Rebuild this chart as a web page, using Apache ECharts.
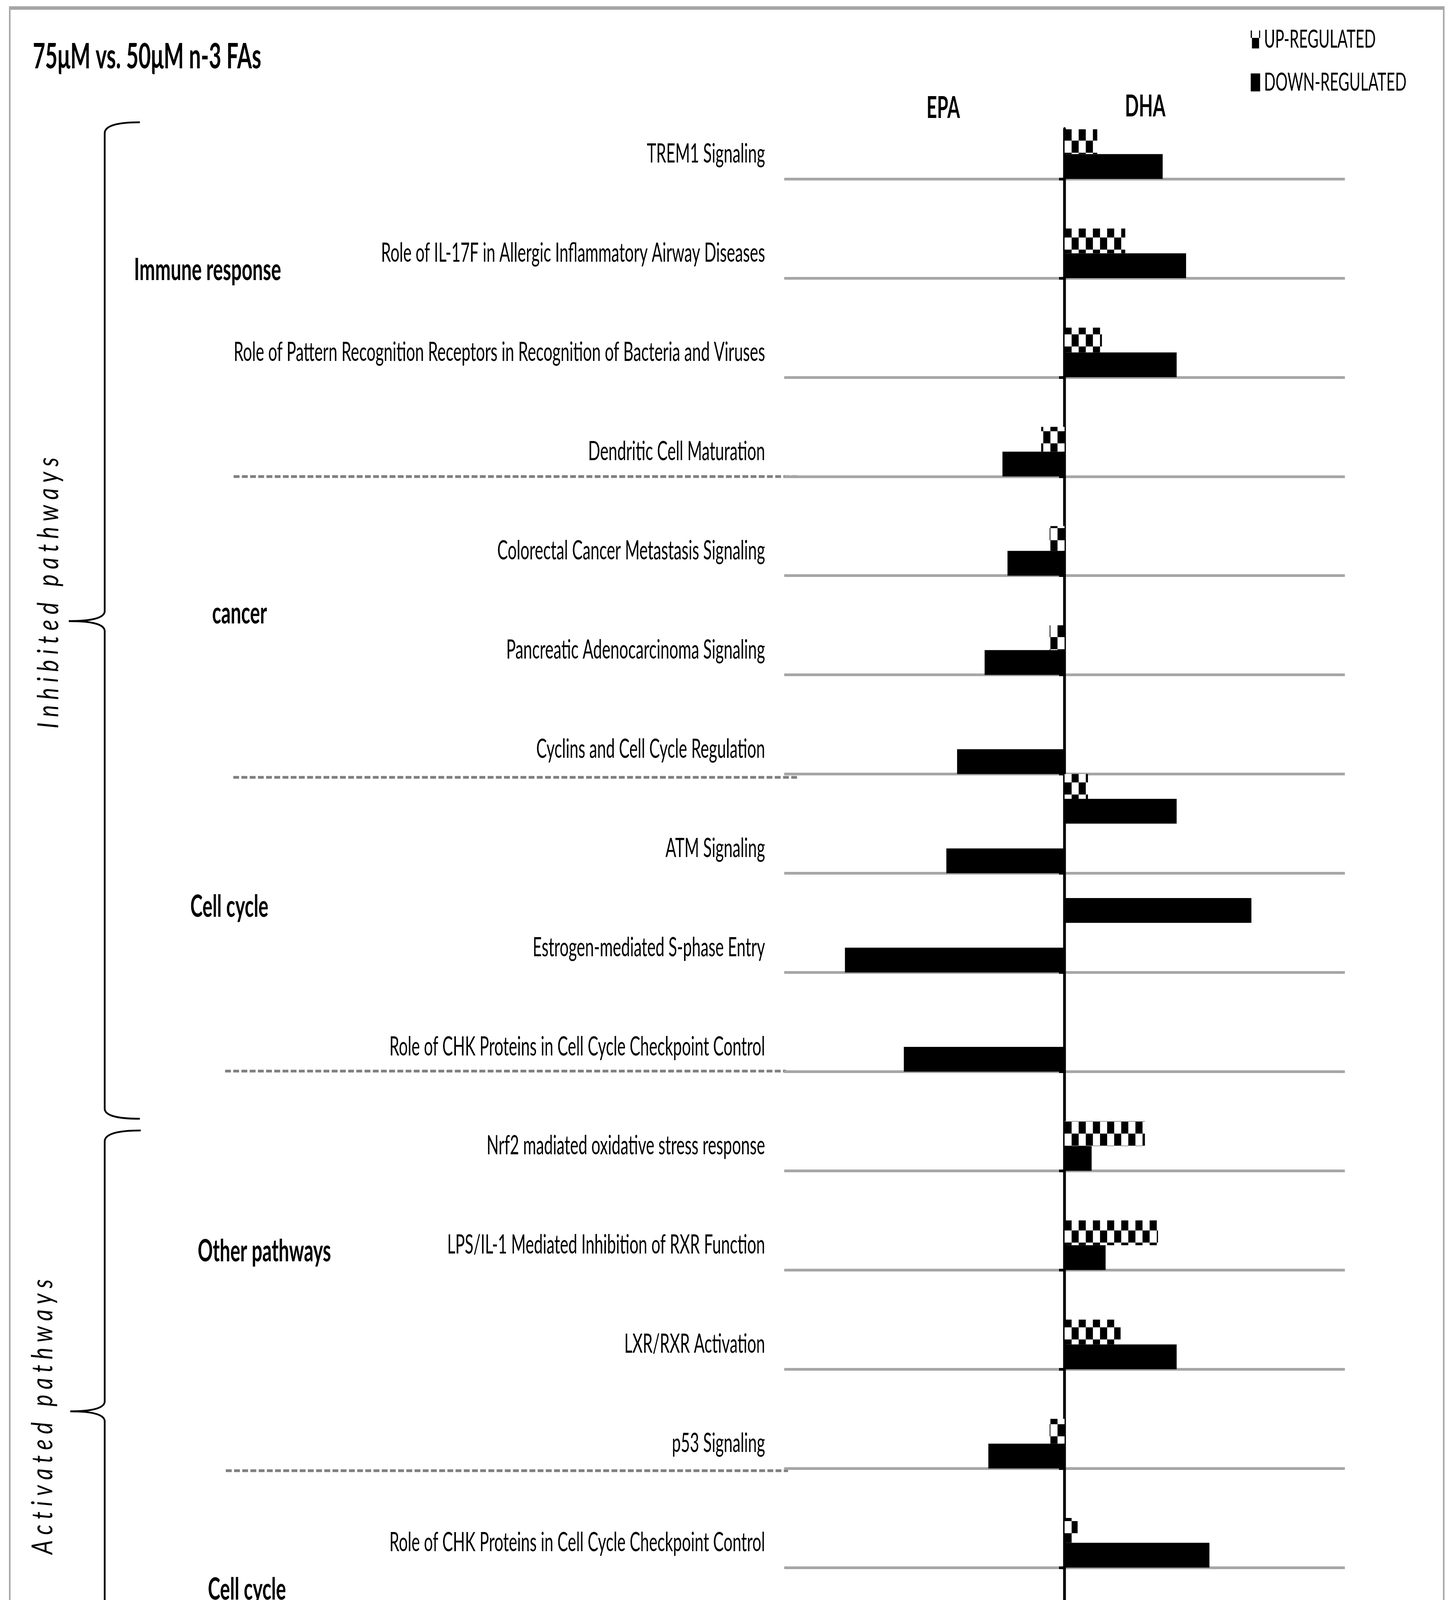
<!DOCTYPE html>
<html><head><meta charset="utf-8">
<script src="https://cdn.jsdelivr.net/npm/echarts@6/dist/echarts.min.js"></script>
<style>
html,body{margin:0;padding:0;background:#fff;width:3727px;height:4540px;overflow:hidden}
#wrap{position:relative;width:3727px;height:4540px;overflow:hidden;background:#fff}
#chart{position:absolute;left:0;top:0;height:4540px;transform-origin:0 0}
</style></head>
<body><div id="wrap"><div id="chart"></div></div>
<script>
// ---------------- data ----------------
const slotLabels = [
  'TREM1 Signaling', '',
  'Role of IL-17F in Allergic Inflammatory Airway Diseases', '',
  'Role of Pattern Recognition Receptors in Recognition of Bacteria and Viruses', '',
  'Dendritic Cell Maturation', '',
  'Colorectal Cancer Metastasis Signaling', '',
  'Pancreatic Adenocarcinoma Signaling', '',
  'Cyclins and Cell Cycle Regulation', '',
  'ATM Signaling', '',
  'Estrogen-mediated S-phase Entry', '',
  'Role of CHK Proteins in Cell Cycle Checkpoint Control', '',
  'Nrf2 madiated oxidative stress response', '',
  'LPS/IL-1 Mediated Inhibition of RXR Function', '',
  'LXR/RXR Activation', '',
  'p53 Signaling', '',
  'Role of CHK Proteins in Cell Cycle Checkpoint Control', '',
  'Cell Cycle: G1/S Checkpoint Regulation'
];
const upRegulated = [
  7, null, 13, null, 8, null, -5, null, -3.2, null, -3.2, null, null, 5, null, null,
  null, null, null, null, 17.2, null, 20, null, 12, null, -3.2, null, 2.8, null, -6.2
];
const downRegulated = [
  21, null, 26, null, 24, null, -13.3, null, -12.2, null, -17.1, null, -23, 24, -25.3, 40,
  -47, null, -34.4, null, 5.8, null, 8.8, null, 24, null, -16.3, null, 31, null, -24.2
];
const seriesNames = ['UP-REGULATED', 'DOWN-REGULATED'];
const axisMin = -60, axisMax = 60, axisStep = 20;
const titleText = '75μM vs. 50μM n-3 FAs';
const acidNames = ['EPA', 'DHA'];
const groupNames = ['Immune response', 'cancer', 'Cell cycle', 'Other pathways', 'Cell cycle'];
const sideNames = ['I n h i b i t e d   p a t h w a y s', 'A c t i v a t e d   p a t h w a y s'];
const captionText = '({b|a})';

// ---------------- layout helpers ----------------
const FONT = 'Lato, "Open Sans", "DejaVu Sans", sans-serif';
const W0 = 3727, H0 = 4540;
const mctx = document.createElement('canvas').getContext('2d');
function textWidth(str, size, weight, style) {
  mctx.font = (style || 'normal') + ' ' + (weight || 'normal') + ' ' + size + 'px ' + FONT;
  return mctx.measureText(str).width;
}
// the reference is drawn with horizontally condensed text: squeeze the whole canvas
const S = 1360 / textWidth(slotLabels[4], 67);
const PX = v => v / S;

const chartDiv = document.getElementById('chart');
chartDiv.style.width = (W0 / S) + 'px';
chartDiv.style.transform = 'scaleX(' + S + ')';
const chart = echarts.init(chartDiv, null, {renderer: 'canvas', width: W0 / S, height: H0});

const gridLeft = PX(2007), gridWidth = PX(1435), gridTop = 331, gridHeight = 3936;
const zeroX = gridLeft + gridWidth / 2;

// checkered pattern
const cw = Math.round(PX(18)), ch = 31;
const tile = document.createElement('canvas');
tile.width = cw * 2; tile.height = ch * 2;
const tc = tile.getContext('2d');
tc.fillStyle = '#fff'; tc.fillRect(0, 0, cw * 2, ch * 2);
tc.fillStyle = '#000'; tc.fillRect(0, 0, cw, ch); tc.fillRect(cw, ch, cw, ch);
const checker = {image: tile, repeat: 'repeat', x: zeroX, y: 19};

const oddBoundary = (i) => i % 2 === 1;
const GRAY = '#a6a6a6';

function sideText(str, cx, cy, len) {
  const F = 70;
  const w = textWidth(str, F, 'normal', 'italic');
  return {
    type: 'text', x: PX(cx), y: cy, rotation: Math.PI / 2,
    scaleX: len / w, scaleY: 53 / (F * 0.7165 * S),
    style: {text: str, fontSize: F, fontStyle: 'italic', fontWeight: 'normal', fontFamily: FONT,
            fill: '#000', align: 'center', verticalAlign: 'middle'}
  };
}
function boldText(str, x, y, size, align) {
  return {type: 'text', x: PX(x), y: y,
    style: {text: str, fontSize: size, fontWeight: 'bold', fontFamily: FONT, fill: '#000',
            align: align || 'left', verticalAlign: 'middle'}};
}
function dash(x1, x2, y) {
  return {type: 'line', shape: {x1: x1, y1: y, x2: x2, y2: y},
    style: {stroke: '#7f7f7f', lineWidth: 7, lineDash: [15, 6]}};
}
const braceStyle = {fill: 'none', stroke: '#000', lineWidth: 4.5};
function curve(x1, y1, cx, cy, x2, y2) {
  return {type: 'bezierCurve', shape: {x1: x1, y1: y1, cpx1: cx, cpy1: cy, x2: x2, y2: y2}, style: braceStyle};
}
function vline(x, y1, y2) {
  return {type: 'line', shape: {x1: x, y1: y1, x2: x, y2: y2}, style: braceStyle};
}
function brace(spineX, endX, top, tipX, tipY, bottom) {
  return [
    curve(endX, top, spineX, top, spineX, top + 28),
    vline(spineX, top + 28, tipY - 26),
    curve(spineX, tipY - 26, spineX, tipY, tipX, tipY),
    curve(tipX, tipY, spineX, tipY, spineX, tipY + 26),
    vline(spineX, tipY + 26, bottom - 26),
    curve(spineX, bottom - 26, spineX, bottom, endX, bottom)
  ];
}

const overlay = [
  {type: 'rect', shape: {x: 25, y: 20, width: 3670, height: 4403},
   style: {fill: 'none', stroke: GRAY, lineWidth: 4}},
  {type: 'line', shape: {x1: 23, y1: 20.5, x2: 3697, y2: 20.5}, style: {stroke: GRAY, lineWidth: 9}},
  dash(598, 2046, 1220),
  dash(597, 2046, 1990),
  dash(576, 2012, 2742),
  dash(578, 2017, 3765),
  {type: 'text', x: 1863, y: 4503,
   style: {text: captionText, fontSize: 62, fontFamily: '"Liberation Serif", "DejaVu Serif", serif',
           fill: '#000', align: 'center', verticalAlign: 'middle',
           rich: {b: {fontWeight: 'bold', fontSize: 62, fontFamily: '"Liberation Serif", serif'}}}}
].concat(brace(268, 358, 313, 176, 1590, 2864), brace(268, 360, 2894, 180, 3613, 4331));

const option = {
  animation: false,
  backgroundColor: '#fff',
  legend: {
    data: seriesNames, orient: 'vertical', left: PX(3198), top: 64,
    itemWidth: PX(24), itemHeight: 46, itemGap: 46, selectedMode: false, icon: 'rect',
    textStyle: {fontSize: 64, lineHeight: 50, fontFamily: FONT, color: '#000', padding: [0, 0, 0, PX(7)]}
  },
  grid: {left: gridLeft, width: gridWidth, top: gridTop, height: gridHeight, containLabel: false},
  xAxis: {
    type: 'value', min: axisMin, max: axisMax, interval: axisStep, position: 'bottom',
    axisLine: {show: true, onZero: false, lineStyle: {color: GRAY, width: 7}},
    axisTick: {show: true, length: 20, lineStyle: {color: GRAY, width: PX(3)}},
    axisLabel: {margin: 64, fontSize: 72, fontFamily: FONT, color: '#000',
                formatter: v => String(Math.abs(v))},
    splitLine: {show: false}
  },
  yAxis: [{
    type: 'category', data: slotLabels, inverse: true, position: 'left',
    axisLine: {show: false, onZero: false},
    axisTick: {show: false},
    axisLabel: {interval: 0, margin: PX(49), fontSize: 67, fontFamily: FONT, color: '#000',
                padding: [10, 0, 0, 0]},
    splitLine: {show: true, interval: oddBoundary, lineStyle: {color: GRAY, width: 7}}
  }, {
    type: 'category', data: slotLabels, inverse: true, position: 'left',
    axisLine: {show: true, onZero: true, lineStyle: {color: '#000', width: PX(7)}},
    axisTick: {show: true, interval: oddBoundary, length: PX(14), lineStyle: {color: '#000', width: 7}},
    axisLabel: {show: false},
    splitLine: {show: false}
  }],
  series: [{
    name: seriesNames[0], type: 'bar', yAxisIndex: 0, data: upRegulated,
    barGap: '0%', barCategoryGap: '0%', itemStyle: {color: checker}
  }, {
    name: seriesNames[1], type: 'bar', yAxisIndex: 0, data: downRegulated,
    barGap: '0%', barCategoryGap: '0%', itemStyle: {color: '#000'}
  }],
  graphic: [
    boldText(titleText, 84, 146, 90),
    boldText(acidNames[0], 2414, 277, 77, 'center'),
    boldText(acidNames[1], 2931, 273, 77, 'center'),
    boldText(groupNames[0], 343, 692, 79),
    boldText(groupNames[1], 543, 1571, 79),
    boldText(groupNames[2], 487, 2322, 79),
    boldText(groupNames[3], 506, 3204, 79),
    boldText(groupNames[4], 532, 4070, 79),
    sideText(sideNames[0], 125, 1518, 694),
    sideText(sideNames[1], 110, 3627, 704),
    {type: 'group', x: 0, y: 0, scaleX: 1 / S, children: overlay}
  ]
};
chart.setOption(option);
</script>
</body></html>
